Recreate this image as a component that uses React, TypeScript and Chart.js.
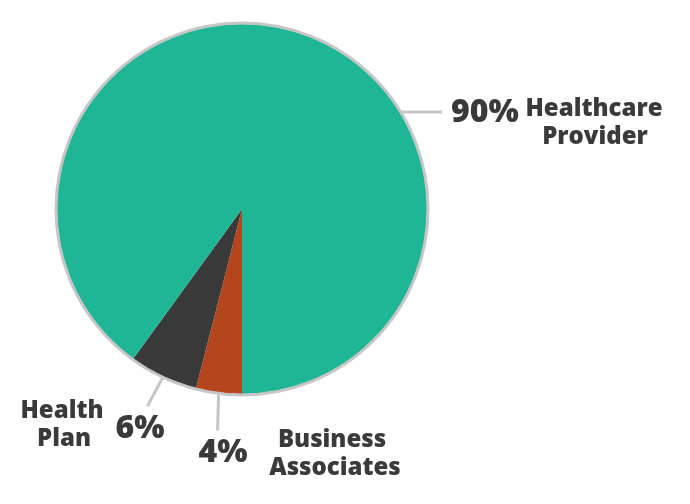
import React, { useEffect, useRef } from "react";
import { Chart, registerables } from "chart.js";

Chart.register(...registerables);

const categories = ["Business Associates", "Health Plan", "Healthcare Provider"];
const values = [4, 6, 90];
const percentLabels = ["4%", "6%", "90%"];
const colors = ["#b5461c", "#3a3a3a", "#1fb695"];

const TEXT = "#3a3a3a";
const LINE = "#c6c6c6";
const FONT = "'Open Sans', Lato, sans-serif";

const labelPlugin = {
  id: "pieLabels",
  afterDatasetsDraw(chart: any) {
    const ctx = chart.ctx;
    const meta = chart.getDatasetMeta(0);
    const arc0 = meta.data[0];
    const cx = arc0.x;
    const cy = arc0.y;
    const r = arc0.outerRadius;

    ctx.save();
    ctx.strokeStyle = LINE;
    ctx.lineWidth = 3;
    ctx.beginPath();
    ctx.arc(cx, cy, r + 1, 0, Math.PI * 2);
    ctx.stroke();
    ctx.restore();

    const pt = (angle: number, rad: number) => [cx + Math.cos(angle) * rad, cy + Math.sin(angle) * rad];
    const mid = (i: number) => {
      const a = meta.data[i];
      return (a.startAngle + a.endAngle) / 2;
    };

    ctx.save();
    ctx.strokeStyle = LINE;
    ctx.lineWidth = 3;

    {
      const [x0, y0] = pt(mid(0), r + 2);
      ctx.beginPath();
      ctx.moveTo(x0, y0);
      ctx.lineTo(x0 - 1, y0 + 36);
      ctx.stroke();
    }
    {
      const [x0, y0] = pt(mid(1), r + 2);
      ctx.beginPath();
      ctx.moveTo(x0, y0);
      ctx.lineTo(x0 - 15, y0 + 28);
      ctx.stroke();
    }
    {
      const a = -Math.asin(97 / (r + 2));
      const [x0, y0] = pt(a, r + 2);
      ctx.beginPath();
      ctx.moveTo(x0, y0);
      ctx.lineTo(442, y0);
      ctx.stroke();
    }
    ctx.restore();

    ctx.save();
    ctx.fillStyle = TEXT;
    ctx.textBaseline = "alphabetic";

    const [hcName1, hcName2] = ["Healthcare", "Provider"];
    const [hpName1, hpName2] = ["Health", "Plan"];
    const [baName1, baName2] = ["Business", "Associates"];

    ctx.font = `800 32px ${FONT}`;
    ctx.textAlign = "left";
    ctx.fillText(percentLabels[2], 451, 122);
    ctx.textAlign = "center";
    ctx.fillText(percentLabels[1], 140, 438);
    ctx.fillText(percentLabels[0], 223, 462);

    ctx.font = `800 24px ${FONT}`;
    ctx.textAlign = "center";
    ctx.fillText(hcName1, 594, 116);
    ctx.fillText(hcName2, 595, 144);
    ctx.fillText(hpName1, 62, 418);
    ctx.fillText(hpName2, 64, 446);
    ctx.fillText(baName1, 332, 447);
    ctx.fillText(baName2, 335, 475);
    ctx.restore();
  },
};

export default function App() {
  const ref = useRef<HTMLCanvasElement>(null);
  useEffect(() => {
    if (!ref.current) return;
    const chart = new Chart(ref.current, {
      type: "pie",
      data: {
        labels: categories,
        datasets: [{ data: values, backgroundColor: colors, borderWidth: 0 }],
      },
      options: {
        responsive: false,
        animation: false,
        rotation: 180,
        layout: { padding: { left: 57, right: 263, top: 24, bottom: 110 } },
        plugins: { legend: { display: false }, tooltip: { enabled: false } },
      },
      plugins: [labelPlugin],
    });
    return () => chart.destroy();
  }, []);
  return (
    <div style={{ position: "fixed", left: 0, top: 0, width: 690, height: 504, background: "#fff" }}>
      <canvas ref={ref} width={690} height={504} style={{ width: 690, height: 504 }} />
    </div>
  );
}
